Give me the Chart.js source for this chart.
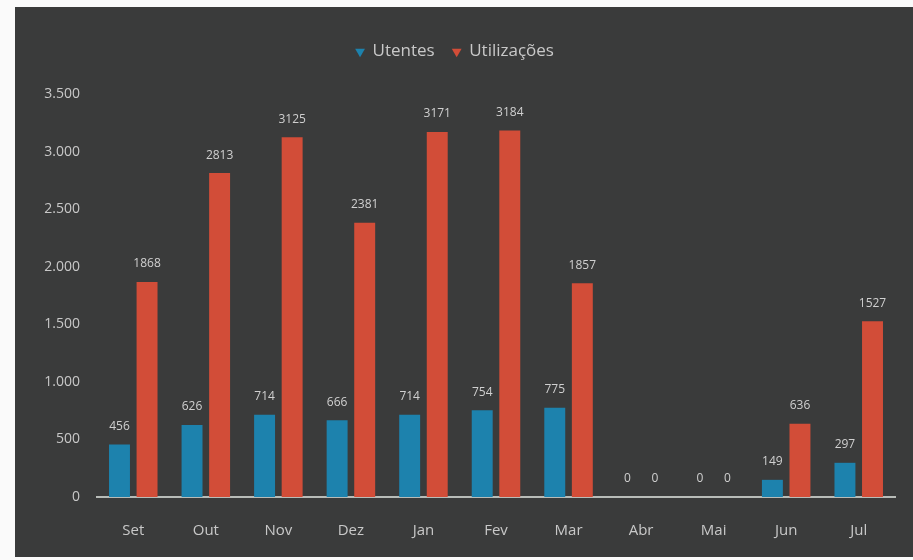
<!DOCTYPE html>
<html>
<head>
<meta charset="utf-8">
<script src="https://cdn.jsdelivr.net/npm/chart.js@4/dist/chart.umd.min.js"></script>
<style>
  html, body { margin: 0; padding: 0; background: #fafafa; }
  #wrap { position: absolute; left: 15px; top: 7px; width: 898px; height: 550px; background: #3a3b3b; }
</style>
</head>
<body>
<div id="wrap"><canvas id="chart"></canvas></div>
<script>
// months (Portuguese)
var months = ['Set', 'Out', 'Nov', 'Dez', 'Jan', 'Fev', 'Mar', 'Abr', 'Mai', 'Jun', 'Jul'];
var utentes = [456, 626, 714, 666, 714, 754, 775, 0, 0, 149, 297];
var utilizacoes = [1868, 2813, 3125, 2381, 3171, 3184, 1857, 0, 0, 636, 1527];
var yTicks = [0, 500, 1000, 1500, 2000, 2500, 3000, 3500];

// value labels on top of each bar
var barLabels = {
    id: 'barLabels',
    afterDatasetsDraw: function (chart) {
        var ctx = chart.ctx;
        ctx.save();
        ctx.font = '12px "Open Sans", sans-serif';
        ctx.fillStyle = '#d0d0d0';
        ctx.textAlign = 'center';
        ctx.textBaseline = 'bottom';
        chart.data.datasets.forEach(function (ds, i) {
            chart.getDatasetMeta(i).data.forEach(function (bar, j) {
                ctx.fillText(ds.data[j], bar.x, bar.y - 12);
            });
        });
        ctx.restore();
    }
};

// extra room under the legend
var legendGap = {
    id: 'legendGap',
    beforeInit: function (chart) {
        var fit = chart.legend.fit;
        chart.legend.fit = function () {
            fit.bind(chart.legend)();
            this.height += 24;
        };
    }
};

new Chart(document.getElementById('chart'), {
    type: 'bar',
    data: {
        labels: months,
        datasets: [{
            label: 'Utentes',
            data: utentes,
            backgroundColor: '#1d82ad',
            categoryPercentage: 0.76,
            barPercentage: 0.76
        }, {
            label: 'Utilizações',
            data: utilizacoes,
            backgroundColor: '#d24d38',
            categoryPercentage: 0.76,
            barPercentage: 0.76
        }]
    },
    options: {
        responsive: true,
        maintainAspectRatio: false,
        animation: false,
        layout: { padding: { top: 18, right: 18, left: 0, bottom: 0 } },
        plugins: {
            legend: {
                position: 'top',
                labels: {
                    color: '#c8c8c8',
                    font: { size: 17, family: '"Open Sans", sans-serif' },
                    usePointStyle: true,
                    pointStyle: 'triangle',
                    boxWidth: 8,
                    boxHeight: 8,
                    padding: 18,
                    generateLabels: function (chart) {
                        var items = Chart.defaults.plugins.legend.labels.generateLabels(chart);
                        items.forEach(function (it) {
                            it.pointStyle = 'triangle';
                            it.rotation = 180;
                            it.strokeStyle = it.fillStyle;
                            it.fontColor = '#c8c8c8';
                        });
                        return items;
                    }
                }
            },
            tooltip: { enabled: false }
        },
        scales: {
            x: {
                grid: { display: false, drawTicks: false },
                border: { display: true, color: '#b8bcb8', width: 2 },
                ticks: {
                    color: '#c8c8c8',
                    font: { size: 15, family: '"Open Sans", sans-serif' },
                    padding: 25
                },
                afterFit: function (scale) { scale.height = 60; }
            },
            y: {
                min: 0,
                max: 3500,
                grid: { display: false, drawTicks: false },
                border: { display: false },
                afterBuildTicks: function (scale) {
                    scale.ticks = yTicks.map(function (v) { return { value: v }; });
                },
                ticks: {
                    color: '#c8c8c8',
                    font: { size: 14, family: '"Open Sans", sans-serif' },
                    padding: 17,
                    callback: function (v) {
                        return v.toString().replace(/\B(?=(\d{3})+(?!\d))/g, '.');
                    }
                },
                afterFit: function (scale) { scale.width = 82; }
            }
        }
    },
    plugins: [barLabels, legendGap]
});
</script>
</body>
</html>
